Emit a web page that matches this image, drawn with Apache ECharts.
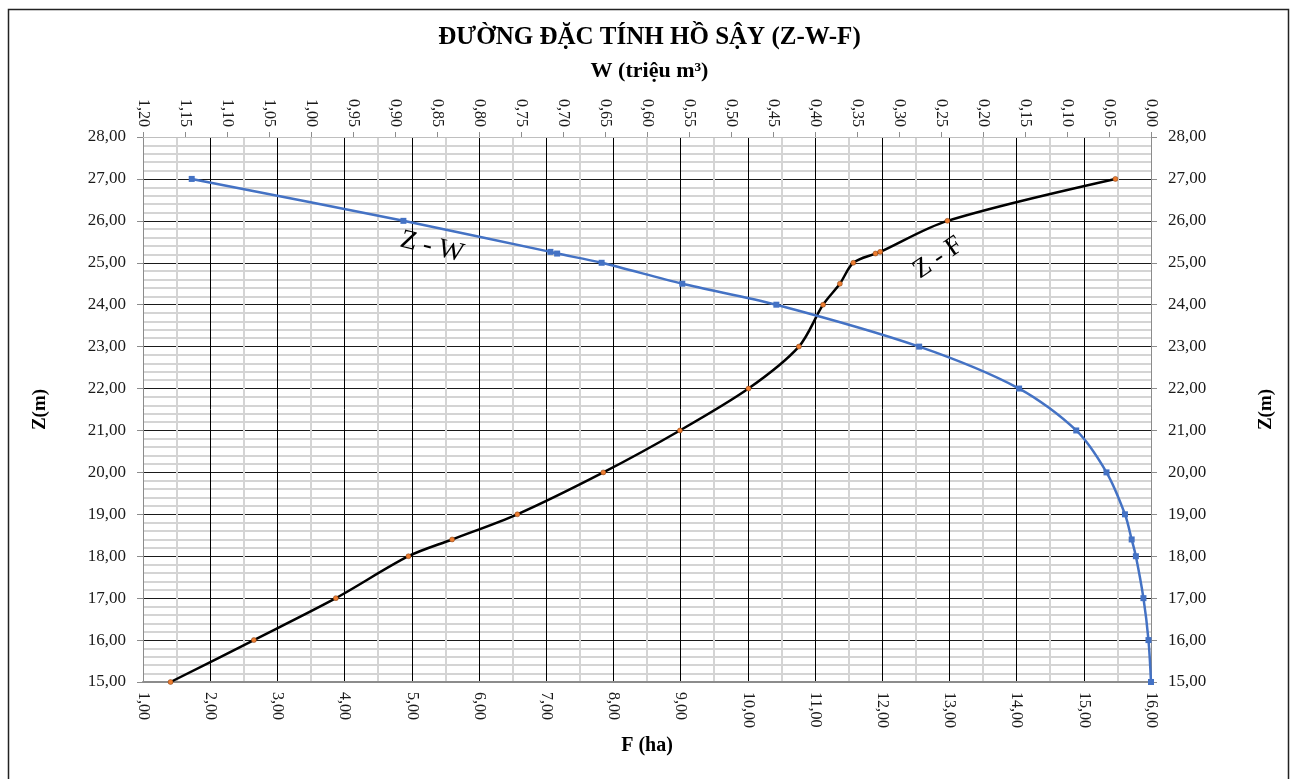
<!DOCTYPE html>
<html><head><meta charset="utf-8">
<script src="https://cdn.jsdelivr.net/npm/echarts@6/dist/echarts.min.js"></script>
<style>html,body{margin:0;padding:0;background:#fff}#c{width:1299px;height:779px}</style>
</head><body><div id="c"></div>
<script>
// Water level Z (m)
const zLevels = [15, 16, 17, 18, 18.4, 19, 20, 21, 22, 23, 24, 24.5, 25, 25.22, 25.26, 26, 27];
// Surface area F (ha) for each Z
const fArea = [1.41, 2.65, 3.87, 4.95, 5.60, 6.57, 7.85, 8.99, 10.01, 10.76, 11.12, 11.37, 11.57, 11.90, 11.97, 12.97, 15.47];
// Volume W (million m3) for each Z
const wVolume = [0, 0.003, 0.009, 0.018, 0.023, 0.031, 0.053, 0.089, 0.157, 0.276, 0.446, 0.558, 0.654, 0.707, 0.715, 0.890, 1.142];

const titleText = 'ĐƯỜNG ĐẶC TÍNH HỒ SẬY (Z-W-F)';
const wAxisName = 'W (triệu m³)';
const fAxisName = 'F (ha)';
const zAxisName = 'Z(m)';
const curveLabelZW = 'Z - W';
const curveLabelZF = 'Z - F';

const chart = echarts.init(document.getElementById('c'), null, {renderer: 'canvas'});
const fmt = v => Number(v).toFixed(2).replace('.', ',');
const serif = 'Liberation Serif';
const labelColor = '#1a1a1a';

const option = {
  backgroundColor: '#fff',
  animation: false,
  title: [
    {text: titleText, left: 'center', top: 20,
     textStyle: {fontFamily: serif, fontSize: 25, fontWeight: 'bold', color: '#000'}},
    {text: wAxisName, left: 'center', top: 55,
     textStyle: {fontFamily: serif, fontSize: 22, fontWeight: 'bold', color: '#000'}}
  ],
  grid: {left: 143, right: 148, top: 137, bottom: 97, containLabel: false},
  xAxis: [
    {
      type: 'value', position: 'bottom', min: 1, max: 16, interval: 1,
      name: fAxisName, nameLocation: 'middle', nameGap: 54,
      nameTextStyle: {fontFamily: serif, fontSize: 20, fontWeight: 'bold', color: '#000'},
      axisLine: {show: true, onZero: false, lineStyle: {color: '#8c8c8c', width: 2}},
      axisTick: {show: false},
      axisLabel: {rotate: -90, margin: 10, formatter: fmt, fontFamily: serif, fontSize: 16, color: labelColor,
                  showMinLabel: true, showMaxLabel: true, hideOverlap: false},
      splitLine: {show: true, lineStyle: {color: '#000', width: 1}},
      minorTick: {show: false, splitNumber: 2},
      minorSplitLine: {show: true, lineStyle: {color: '#d4d4d4', width: 2}}
    },
    {
      type: 'value', position: 'top', min: 0, max: 1.2, interval: 0.05, inverse: true,
      axisLine: {show: true, onZero: false, lineStyle: {color: '#bfbfbf', width: 1}},
      axisTick: {show: true, length: 5, lineStyle: {color: '#8c8c8c'}},
      axisLabel: {rotate: 90, margin: 10, formatter: fmt, fontFamily: serif, fontSize: 16, color: labelColor,
                  showMinLabel: true, showMaxLabel: true, hideOverlap: false},
      splitLine: {show: false}
    }
  ],
  yAxis: [
    {
      type: 'value', position: 'left', min: 15, max: 28, interval: 1,
      name: zAxisName, nameLocation: 'middle', nameRotate: 90, nameGap: 93,
      nameTextStyle: {fontFamily: serif, fontSize: 19, fontWeight: 'bold', color: '#000'},
      axisLine: {show: true, onZero: false, lineStyle: {color: '#8c8c8c', width: 1}},
      axisTick: {show: true, length: 6, lineStyle: {color: '#8c8c8c'}},
      axisLabel: {margin: 17, formatter: fmt, fontFamily: serif, fontSize: 17, color: labelColor,
                  showMinLabel: true, showMaxLabel: true},
      splitLine: {show: true, lineStyle: {color: '#1a1a1a', width: 1}},
      minorTick: {show: false, splitNumber: 5},
      minorSplitLine: {show: true, lineStyle: {color: '#d4d4d4', width: 2}}
    },
    {
      type: 'value', position: 'right', min: 15, max: 28, interval: 1,
      name: zAxisName, nameLocation: 'middle', nameRotate: 90, nameGap: 106,
      nameTextStyle: {fontFamily: serif, fontSize: 19, fontWeight: 'bold', color: '#000'},
      axisLine: {show: true, onZero: false, lineStyle: {color: '#8c8c8c', width: 1}},
      axisTick: {show: true, length: 6, lineStyle: {color: '#8c8c8c'}},
      axisLabel: {margin: 17, formatter: fmt, fontFamily: serif, fontSize: 17, color: labelColor,
                  showMinLabel: true, showMaxLabel: true},
      splitLine: {show: false}
    }
  ],
  series: [
    {
      name: 'Z-F', type: 'line', xAxisIndex: 0, yAxisIndex: 0, smooth: 0.3,
      data: zLevels.map((z, i) => [fArea[i], z]),
      lineStyle: {color: '#000', width: 2.5},
      symbol: 'circle', symbolSize: 5,
      itemStyle: {color: '#ED7D31', borderColor: '#7a3a10', borderWidth: 0.5},
      z: 3
    },
    {
      name: 'Z-W', type: 'line', xAxisIndex: 1, yAxisIndex: 0, smooth: 0.3,
      data: zLevels.map((z, i) => [wVolume[i], z]),
      lineStyle: {color: '#4472C4', width: 2.5},
      symbol: 'rect', symbolSize: 6,
      itemStyle: {color: '#4472C4'},
      z: 4
    }
  ],
  graphic: [
    {type: 'rect', shape: {x: 8.5, y: 9.5, width: 1280, height: 775}, silent: true,
     style: {fill: 'none', stroke: '#222', lineWidth: 1.5}, z: 100},
    {type: 'text', x: 432, y: 247, rotation: -0.24, silent: true,
     style: {text: curveLabelZW, fontFamily: serif, fontSize: 27, fill: '#000', align: 'center', verticalAlign: 'middle'}, z: 100},
    {type: 'text', x: 938, y: 258, rotation: 0.6, silent: true,
     style: {text: curveLabelZF, fontFamily: serif, fontSize: 27, fill: '#000', align: 'center', verticalAlign: 'middle'}, z: 100}
  ]
};
chart.setOption(option);
</script>
</body></html>
